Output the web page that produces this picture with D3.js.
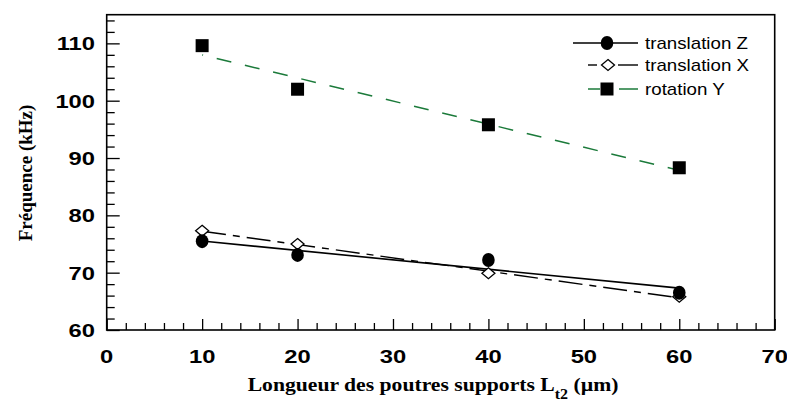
<!DOCTYPE html>
<html><head><meta charset="utf-8">
<script src="https://cdn.jsdelivr.net/npm/d3@7"></script>
<style>body{margin:0;background:#fff}svg{display:block}</style>
</head><body>
<script>
const lengths = [10, 20, 40, 60];
const translationZ = [75.5, 73.1, 72.2, 66.5];
const translationX = [77.3, 75.0, 69.9, 65.8];
const rotationY = [109.6, 102.0, 95.8, 88.3];
const seriesNames = ["translation Z", "translation X", "rotation Y"];
const xTicks = [0, 10, 20, 30, 40, 50, 60, 70];
const yTicks = [60, 70, 80, 90, 100, 110];
const xTitle = "Longueur des poutres supports L";
const xTitleSub = "t2";
const xTitleEnd = " (µm)";
const yTitle = "Fréquence (kHz)";

const W = 787, H = 405;
const m = {left: 106.7, right: 774.7, top: 14.7, bottom: 330};
const svg = d3.select("body").append("svg").attr("width", W).attr("height", H);
const x = d3.scaleLinear().domain([0, 70]).range([m.left, m.right]);
const y = d3.scaleLinear().domain([60, 115]).range([m.bottom, m.top]);
const green = "#1b7a3a";
const sx = 1.25; // horizontal stretch seen in the reference text

// ticks
const xAxis = d3.axisBottom(x).tickValues(d3.range(0, 71, 2)).tickSize(0).tickFormat("");
const gx = svg.append("g").attr("transform", `translate(0,${m.bottom})`).call(xAxis);
gx.select(".domain").remove();
gx.selectAll(".tick line").attr("y2", d => d % 10 === 0 ? -11 : -7).attr("stroke", "#000").attr("stroke-width", 1.3);
const yAxis = d3.axisLeft(y).tickValues(d3.range(60, 115, 2)).tickSize(0).tickFormat("");
const gy = svg.append("g").attr("transform", `translate(${m.left},0)`).call(yAxis);
gy.select(".domain").remove();
gy.selectAll(".tick line").attr("x2", d => d % 10 === 0 ? 13 : 8).attr("stroke", "#000").attr("stroke-width", 1.3);

// frame
svg.append("rect").attr("x", m.left).attr("y", m.top).attr("width", m.right - m.left).attr("height", m.bottom - m.top)
  .attr("fill", "none").attr("stroke", "#000").attr("stroke-width", 1.6);

// tick labels
const lblFont = "'Liberation Sans', Arial, sans-serif";
svg.append("g").selectAll("text").data(xTicks).join("text")
  .attr("transform", d => `translate(${x(d)},363) scale(${sx},1)`).attr("text-anchor", "middle")
  .attr("font-family", lblFont).attr("font-weight", "bold").attr("font-size", 19).text(d => d);
svg.append("g").selectAll("text").data(yTicks).join("text")
  .attr("transform", d => `translate(95,${y(d) + 7}) scale(${sx},1)`).attr("text-anchor", "end")
  .attr("font-family", lblFont).attr("font-weight", "bold").attr("font-size", 19).text(d => d);

// titles
const serif = "'Liberation Serif', 'Times New Roman', serif";
svg.append("text").attr("transform", `translate(32,173) rotate(-90)`).attr("text-anchor", "middle")
  .attr("font-family", serif).attr("font-weight", "bold").attr("font-size", 19).text(yTitle);
const xt = svg.append("text").attr("transform", `translate(433,391) scale(1.14,1)`).attr("text-anchor", "middle")
  .attr("font-family", serif).attr("font-weight", "bold").attr("font-size", 19);
xt.append("tspan").text(xTitle);
xt.append("tspan").attr("dy", 8).attr("font-size", 14).text(xTitleSub);
xt.append("tspan").attr("dy", -8).text(xTitleEnd);

// regression lines computed from data
function fit(ys) {
  const mx = d3.mean(lengths), my = d3.mean(ys);
  const sxy = d3.sum(lengths, (v, i) => (v - mx) * (ys[i] - my));
  const sxx = d3.sum(lengths, v => (v - mx) ** 2);
  const b = sxy / sxx, a = my - b * mx;
  return [lengths[0], lengths[lengths.length - 1]].map(v => [v, a + b * v]);
}
const line = d3.line().x(d => x(d[0])).y(d => y(d[1]));
svg.append("path").attr("d", line(fit(translationZ))).attr("fill", "none").attr("stroke", "#000").attr("stroke-width", 1.6);
svg.append("path").attr("d", line(fit(translationX))).attr("fill", "none").attr("stroke", "#000").attr("stroke-width", 1.4)
  .attr("stroke-dasharray", "24,7,7,7");
svg.append("path").attr("d", line(fit(rotationY))).attr("fill", "none").attr("stroke", green).attr("stroke-width", 1.5)
  .attr("stroke-dasharray", "15,14").attr("stroke-dashoffset", 14);

// markers
function circle(g, cx, cy) { g.append("ellipse").attr("cx", cx).attr("cy", cy).attr("rx", 6.3).attr("ry", 7).attr("fill", "#000"); }
function diamond(g, cx, cy) {
  g.append("path").attr("d", `M${cx},${cy-5.5}L${cx+6.5},${cy}L${cx},${cy+5.5}L${cx-6.5},${cy}Z`)
    .attr("fill", "#fff").attr("stroke", "#000").attr("stroke-width", 1.3);
}
function square(g, cx, cy) { g.append("rect").attr("x", cx - 6.5).attr("y", cy - 6.5).attr("width", 13).attr("height", 13).attr("fill", "#000"); }

const mk = svg.append("g");
lengths.forEach((v, i) => diamond(mk, x(v), y(translationX[i])));
lengths.forEach((v, i) => circle(mk, x(v), y(translationZ[i])));
lengths.forEach((v, i) => square(mk, x(v), y(rotationY[i])));

// legend
const lg = svg.append("g");
const lyZ = 43, lyX = 65, lyY = 89;
lg.append("line").attr("x1", 573).attr("x2", 638).attr("y1", lyZ).attr("y2", lyZ).attr("stroke", "#000").attr("stroke-width", 1.6);
circle(lg, 607, lyZ);
lg.append("line").attr("x1", 588).attr("x2", 597).attr("y1", lyX).attr("y2", lyX).attr("stroke", "#000").attr("stroke-width", 1.4);
lg.append("line").attr("x1", 618).attr("x2", 638).attr("y1", lyX).attr("y2", lyX).attr("stroke", "#000").attr("stroke-width", 1.4);
diamond(lg, 608, lyX);
lg.append("line").attr("x1", 588).attr("x2", 600).attr("y1", lyY).attr("y2", lyY).attr("stroke", green).attr("stroke-width", 1.5);
lg.append("line").attr("x1", 619).attr("x2", 638).attr("y1", lyY).attr("y2", lyY).attr("stroke", green).attr("stroke-width", 1.5);
square(lg, 607, lyY);
lg.selectAll("text.l").data(seriesNames).join("text").attr("class", "l")
  .attr("transform", (d, i) => `translate(645,${[lyZ, lyX, lyY][i] + 6}) scale(1.17,1)`)
  .attr("font-family", lblFont).attr("font-size", 16).text(d => d);
</script>
</body></html>
